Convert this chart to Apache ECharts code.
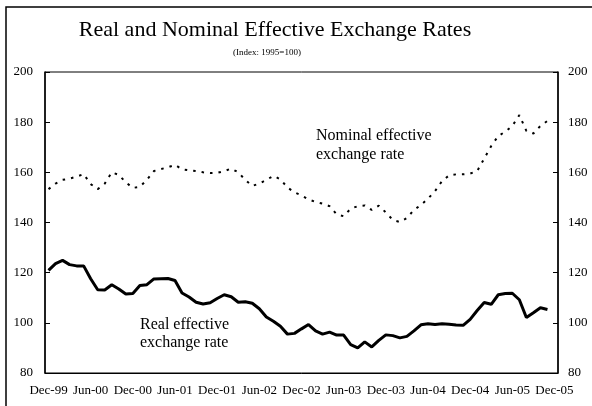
<!DOCTYPE html>
<html>
<head>
<meta charset="utf-8">
<script src="https://cdn.jsdelivr.net/npm/echarts@6/dist/echarts.min.js"></script>
<style>
  html, body { margin: 0; padding: 0; background: #fff; }
  #chart { width: 592px; height: 406px; }
</style>
</head>
<body>
<div id="chart"></div>
<script>
// Monthly observations, Dec-1999 through Nov-2005 (index 1995 = 100)
const monthNames = ['Jan', 'Feb', 'Mar', 'Apr', 'May', 'Jun', 'Jul', 'Aug', 'Sep', 'Oct', 'Nov', 'Dec'];

const realRate = [
  120.9, 123.6, 124.9, 123.2, 122.7, 122.7, 117.6, 113.2, 113.1, 115.2,
  113.5, 111.5, 111.7, 114.9, 115.2, 117.5, 117.6, 117.7, 116.9, 111.9,
  110.3, 108.2, 107.5, 108.0, 109.7, 111.2, 110.4, 108.2, 108.4, 107.8,
  105.6, 102.3, 100.6, 98.6, 95.5, 95.8, 97.6, 99.3, 96.8, 95.5,
  96.3, 95.1, 95.1, 91.3, 90.0, 92.4, 90.4, 93.0, 95.2, 94.9,
  94.0, 94.6, 96.8, 99.2, 99.6, 99.3, 99.6, 99.4, 99.1, 99.0,
  101.4, 104.9, 108.1, 107.4, 111.2, 111.7, 111.8, 109.2, 102.1, 104.0,
  106.0, 105.3
];

const nominalRate = [
  153.3, 155.5, 157.0, 157.5, 158.3, 159.3, 155.3, 153.3, 155.5, 160.0,
  159.0, 156.0, 153.8, 154.2, 157.0, 160.5, 161.3, 162.0, 163.0, 161.2,
  160.8, 160.5, 160.0, 159.7, 159.8, 160.5, 161.5, 160.0, 157.0, 154.6,
  155.5, 157.0, 158.6, 157.2, 154.0, 152.0, 150.8, 149.2, 148.2, 147.5,
  146.5, 143.3, 142.5, 145.5, 146.5, 146.8, 145.0, 146.7, 144.0, 141.0,
  140.2, 141.8, 145.0, 147.0, 149.5, 152.5, 156.5, 158.8, 159.2, 159.2,
  159.5, 160.5, 165.5, 170.5, 174.5, 176.2, 178.5, 182.8, 176.5, 175.5,
  178.5, 180.5
];

const yTicks = [80, 100, 120, 140, 160, 180, 200];

// Month labels from Dec-99 to Dec-05
const categories = [];
for (let k = 0; k <= 72; k++) {
  const m = (11 + k) % 12;
  const y = 1999 + Math.floor((11 + k) / 12);
  categories.push(monthNames[m] + '-' + String(y % 100).padStart(2, '0'));
}

const serif = "'Liberation Serif', 'Times New Roman', serif";
const showEvery6 = (index) => index % 6 === 0;

const chart = echarts.init(document.getElementById('chart'), null, { renderer: 'canvas' });

chart.setOption({
  animation: false,
  backgroundColor: '#fff',
  textStyle: { fontFamily: serif, color: '#000' },
  grid: {
    left: 45, right: 34, top: 72, bottom: 33,
    show: true, borderColor: '#000', borderWidth: 1, backgroundColor: 'transparent'
  },
  xAxis: {
    type: 'category',
    data: categories,
    boundaryGap: true,
    axisLine: { lineStyle: { color: '#000', width: 1 } },
    axisTick: { inside: true, length: 5, interval: showEvery6, lineStyle: { color: '#000' } },
    axisLabel: { interval: showEvery6, margin: 11, fontSize: 13, fontFamily: serif, color: '#000' },
    splitLine: { show: false }
  },
  yAxis: [
    {
      type: 'value', min: yTicks[0], max: yTicks[yTicks.length - 1], interval: 20, position: 'left',
      axisLine: { show: true, lineStyle: { color: '#000', width: 1.5 } },
      axisTick: { show: true, inside: true, length: 5, lineStyle: { color: '#000' } },
      axisLabel: { margin: 12, fontSize: 13, fontFamily: serif, color: '#000' },
      splitLine: { show: false }
    },
    {
      type: 'value', min: yTicks[0], max: yTicks[yTicks.length - 1], interval: 20, position: 'right',
      axisLine: { show: true, lineStyle: { color: '#000', width: 1.5 } },
      axisTick: { show: true, inside: true, length: 5, lineStyle: { color: '#000' } },
      axisLabel: { margin: 10, fontSize: 13, fontFamily: serif, color: '#000' },
      splitLine: { show: false }
    }
  ],
  series: [
    {
      name: 'Real effective exchange rate',
      type: 'line',
      data: realRate,
      showSymbol: false,
      symbol: 'none',
      lineStyle: { color: '#000', width: 3 },
      z: 3
    },
    {
      name: 'Nominal effective exchange rate',
      type: 'line',
      data: nominalRate,
      showSymbol: false,
      symbol: 'none',
      lineStyle: { color: '#000', width: 2, type: [2.5, 6] },
      z: 3
    }
  ],
  graphic: [
    {
      // outer frame: only the left and top edges fall inside the canvas
      type: 'rect', silent: true, z: -1,
      shape: { x: 6, y: 7, width: 600, height: 410 },
      style: { fill: 'none', stroke: '#000', lineWidth: 1.5 }
    },
    {
      type: 'text', x: 275, y: 30,
      style: { text: 'Real and Nominal Effective Exchange Rates', font: '22px ' + serif, fill: '#000', textAlign: 'center', textVerticalAlign: 'middle' }
    },
    {
      type: 'text', x: 267, y: 53,
      style: { text: '(Index: 1995=100)', font: '9px ' + serif, fill: '#000', textAlign: 'center', textVerticalAlign: 'middle' }
    },
    {
      type: 'text', x: 316, y: 136,
      style: { text: 'Nominal effective', font: '16px ' + serif, fill: '#000', textAlign: 'left', textVerticalAlign: 'middle' }
    },
    {
      type: 'text', x: 316, y: 155,
      style: { text: 'exchange rate', font: '16px ' + serif, fill: '#000', textAlign: 'left', textVerticalAlign: 'middle' }
    },
    {
      type: 'text', x: 140, y: 324.5,
      style: { text: 'Real effective', font: '16px ' + serif, fill: '#000', textAlign: 'left', textVerticalAlign: 'middle' }
    },
    {
      type: 'text', x: 140, y: 343,
      style: { text: 'exchange rate', font: '16px ' + serif, fill: '#000', textAlign: 'left', textVerticalAlign: 'middle' }
    }
  ]
});
</script>
</body>
</html>
